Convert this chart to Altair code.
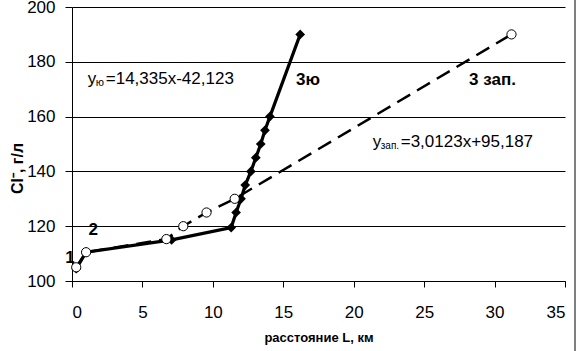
import altair as alt
import pandas as pd

# Series 3ю (solid line, black diamonds)
south_x = [0.3, 1.0, 7.07, 11.3, 11.65, 12.0, 12.3, 12.7, 13.05, 13.4, 13.7, 14.05, 16.2]
south_y = [104.5, 110.5, 115.0, 119.5, 125, 130, 135, 140, 145, 150, 155, 160, 190]

# Series 3 зап. (dashed line, white circles)
west_x = [0.3, 1.0, 6.7, 7.9, 9.55, 11.55, 31.2]
west_y = [105, 110.5, 115.3, 120, 125, 130, 190]

# Axis ticks
x_ticks = [0, 5, 10, 15, 20, 25, 30, 35]
y_ticks = [100, 120, 140, 160, 180, 200]

# Labels (data coordinates)
lbl_text = ["1", "2", "3ю", "3 зап."]
lbl_x = [-0.15, 1.5, 16.75, 29.85]
lbl_y = [108.4, 118.6, 173.4, 173.4]

eq_parts_1 = ["y", "ю", "=14,335x-42,123"]
eq_parts_2 = ["y", "зап.", "=3,0123x+95,187"]
eq_pos_1 = (1.12, 173.6)
eq_pos_2 = (21.35, 150.8)

FONT = "Liberation Sans"

south = pd.DataFrame({"x": south_x, "y": south_y})
west = pd.DataFrame({"x": west_x, "y": west_y})
labels = pd.DataFrame({"t": lbl_text, "x": lbl_x, "y": lbl_y})

xs = alt.Scale(domain=[0, 35], nice=False, zero=False)
ys = alt.Scale(domain=[100, 200], nice=False, zero=False)

X = alt.X("x:Q", scale=xs, axis=alt.Axis(
    values=x_ticks, title="расстояние L, км", grid=False,
    tickSize=6, labelPadding=17, titleY=56, titleBaseline="middle",
    titleFontSize=13, titleFontWeight="bold", titleFont=FONT))
Y = alt.Y("y:Q", scale=ys, axis=alt.Axis(
    values=y_ticks, title="Cl⁻, г/л", grid=True, tickSize=7, labelPadding=10,
    titleAngle=270, titleX=-55, titleY=161, titleAlign="center",
    titleBaseline="middle", titleFontSize=16, titleFontWeight="bold", titleFont=FONT))

base_s = alt.Chart(south)
base_w = alt.Chart(west)

line_s = base_s.mark_line(color="black", strokeWidth=3.2).encode(x=X, y=Y)
line_w = base_w.mark_line(color="black", strokeWidth=2.5, strokeDash=[15, 8]).encode(x="x:Q", y="y:Q")
pts_s = base_s.mark_point(shape="diamond", filled=True, color="black", size=95, opacity=1).encode(x="x:Q", y="y:Q")
pts_w = base_w.mark_point(shape="circle", filled=True, fill="white", stroke="black",
                          strokeWidth=1, size=85, opacity=1).encode(x="x:Q", y="y:Q")

lbl = alt.Chart(labels).mark_text(font=FONT, fontSize=17, fontWeight="bold",
                                  color="black", baseline="middle", align="center").encode(
    x="x:Q", y="y:Q", text="t:N")


def equation(parts, pos, sub_dx, rest_dx, sub_size):
    df = pd.DataFrame({"x": [pos[0]], "y": [pos[1]]})
    c = alt.Chart(df)
    a = c.mark_text(font=FONT, fontSize=17, align="left", baseline="middle",
                    color="black", text=parts[0]).encode(x="x:Q", y="y:Q")
    b = c.mark_text(font=FONT, fontSize=sub_size, align="left", baseline="middle",
                    color="black", dx=sub_dx, dy=4, text=parts[1]).encode(x="x:Q", y="y:Q")
    d = c.mark_text(font=FONT, fontSize=17, align="left", baseline="middle",
                    color="black", dx=rest_dx, text=parts[2]).encode(x="x:Q", y="y:Q")
    return a + b + d


eq1 = equation(eq_parts_1, eq_pos_1, 8, 18, 11)
eq2 = equation(eq_parts_2, eq_pos_2, 8, 28, 10)

border = alt.Chart(pd.DataFrame({"x": [0]})).mark_rule(color="black", strokeWidth=1).encode(
    x=alt.value(503), y=alt.value(-7), y2=alt.value(344))

chart = alt.layer(line_s, line_w, pts_s, pts_w, lbl, eq1, eq2, border).properties(
    width=493, height=274,
    autosize=alt.AutoSizeParams(type="none"),
    padding={"left": 72, "top": 7, "right": 13, "bottom": 70},
    background="white",
).configure_view(stroke=None).configure_axis(
    domainColor="black", domainWidth=1, tickColor="black", tickWidth=1,
    gridColor="black", gridWidth=1, gridOpacity=1,
    labelFont=FONT, labelFontSize=17, labelColor="black",
    titleColor="black",
)

chart.save("out.html", embed_options={"renderer": "svg", "actions": False})
